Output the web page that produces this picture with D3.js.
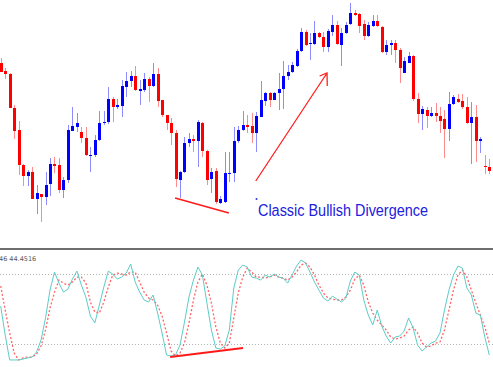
<!DOCTYPE html>
<html>
<head>
<meta charset="utf-8">
<script src="https://cdn.jsdelivr.net/npm/d3@7"></script>
<style>
  html, body { margin: 0; padding: 0; background: #fff; }
  svg { display: block; }
</style>
</head>
<body>
<div id="chart"></div>
<script>
// candles (price units)
const open = [167,159,156,122,100,65,54,58,31,36, 33,46,66,65,40,50,99,103,98,92,
  74,75,90,107,108,131,123,124,143,149, 154,139,140,151,144,156,130,115,107,97,
  50,58,87,91,89,107,79,51,59,27, 28,56,57,89,100,105,104,97,113,129,
  137,130,137,141,154,158,164,179,198,186, 186,197,193,183,198,205,185,197,206,217,
  216,206,194,204,209,203,178,185,187,180, 157,167,174,131,116,120,114,117,114,111,
  101,126,131,129,123,107,113,89,64,63]
const high = [172,162,157,125,109,66,60,63,45,36, 58,72,73,72,53,105,123,117,103,103,
  83,95,119,119,143,133,131,150,158,159, 164,150,157,153,167,162,130,115,112,100,
  59,93,97,95,110,108,80,62,62,34, 78,78,103,104,119,115,117,118,149,138,
  138,138,157,169,165,168,181,202,200,197, 209,198,198,201,215,209,202,208,227,220,
  217,210,208,215,215,204,190,190,190,182, 173,178,175,137,124,123,123,127,123,120,
  138,135,136,136,133,128,125,93,75,71]
const low = [158,151,122,91,55,44,44,31,16,8, 25,34,57,37,32,47,99,98,87,74,
  58,73,89,105,106,108,121,113,133,143, 139,125,138,128,143,123,113,100,85,43,
  32,57,83,78,63,73,45,37,26,26, 27,48,48,87,99,97,87,78,113,124,
  123,130,120,121,150,157,163,178,184,170, 185,192,178,178,194,185,164,196,205,214,
  197,190,193,203,203,177,175,175,167,147, 157,167,129,107,100,102,113,108,97,72,
  89,125,127,121,106,66,68,77,56,56]
const close = [158,156,122,99,65,54,58,31,37,33, 45,66,64,40,50,100,104,107,92,75,
  75,90,107,108,131,123,125,144,149,154, 140,141,151,144,156,129,115,107,97,51,
  58,87,91,89,108,79,50,58,28,31, 57,57,89,100,105,103,97,114,130,137,
  130,137,141,154,158,165,179,198,185,187, 197,193,183,199,205,186,197,205,217,215,
  204,194,205,209,204,178,185,187,180,162, 169,174,131,116,121,114,117,114,109,101,
  126,133,128,123,107,113,89,91,63,59]

// stochastic %K (solid) and %D (dotted)
const stochK = [52.5,27.7,6.3,6.3,6.3,7.1,8.0,8.8,13.1,23.4, 42.3,66.2,81.7,72.2,64.5,67.1,75.7,82.5,70.5,60.2,
  44.0,38.0,53.4,68.8,82.5,80.0,75.7,77.4,80.8,88.5, 73.1,64.5,57.7,56.0,62.0,46.5,29.4,10.5,9.7,10.5,
  19.1,38.8,60.2,74.8,86.0,79.1,55.1,32.0,16.5,15.7, 18.3,32.0,68.0,83.4,87.7,86.0,77.4,76.5,74.8,79.1,
  77.4,80.0,77.4,76.5,72.2,79.1,86.8,92.0,89.4,81.7, 73.1,66.2,59.4,56.8,61.1,58.5,56.0,59.4,74.0,81.7,
  79.1,57.7,44.8,36.3,49.1,35.4,26.8,20.8,26.0,26.8, 31.1,42.3,33.7,19.1,14.0,17.4,20.8,22.5,29.4,49.1,
  66.2,79.1,86.8,85.1,68.0,62.0,46.5,44.8,26.0,10.5]
const stochD = [69.7,49.1,29.4,12.3,6.3,8.0,8.8,8.8,11.4,18.3, 32.0,50.8,64.5,74.8,72.2,70.5,73.1,77.4,77.4,72.2,
  56.0,47.4,46.5,56.0,68.8,79.1,80.8,80.0,79.1,81.7, 81.7,73.1,64.5,59.4,57.7,53.4,44.0,29.4,14.0,9.7,
  12.3,20.8,38.0,57.7,73.1,80.0,70.5,55.1,34.5,20.8, 16.5,20.8,42.3,63.7,77.4,85.1,81.7,77.4,77.4,76.5,
  77.4,79.1,77.4,76.5,74.8,77.4,81.7,87.7,89.4,86.0, 79.1,70.5,63.7,59.4,58.5,57.7,57.7,60.2,66.2,75.7,
  79.1,70.5,56.0,46.5,40.5,36.3,32.0,26.0,24.2,25.1, 26.8,32.0,34.5,29.4,20.8,17.4,18.3,20.8,21.7,32.0,
  49.1,66.2,79.1,83.4,77.4,66.2,55.1,44.8,34.5,20.8]
const stochLevels = [80, 20]
const stochLabel = '46 44.4516'

// annotations: [candle index, value]
const priceDivergence = [[38.9, 32], [50.9, 17]]
const stochDivergence = [[37.8, 8.8], [54.05, 16.5]]
const trendArrow = [[56.9, 49], [72.8, 157]]
const labelText = 'Classic Bullish Divergence'
const labelPos = [57.4, 14]

const width = 493
const height = 367

const svg = d3.select('#chart').append('svg')
  .attr('width', width)
  .attr('height', height)

const x = d3.scaleLinear().domain([0, open.length - 1]).range([0.7, 489.3])
const y = d3.scaleLinear().domain([0, 230]).range([230, 0])
const ys = d3.scaleLinear().domain([0, 100]).range([367.3, 250.7])

const idx = d3.range(open.length)
const upColor = '#0000ff'
const downColor = '#ff0000'
const col = i => (close[i] >= open[i] ? upColor : downColor)

// wicks
svg.append('g').selectAll('line')
  .data(idx)
  .join('line')
  .attr('x1', i => Math.round(x(i)) + 0.5)
  .attr('x2', i => Math.round(x(i)) + 0.5)
  .attr('y1', i => y(high[i]))
  .attr('y2', i => y(low[i]))
  .attr('stroke', col)
  .attr('stroke-opacity', 0.45)
  .attr('stroke-width', 1)

// bodies
svg.append('g').selectAll('rect')
  .data(idx)
  .join('rect')
  .attr('x', i => Math.round(x(i)) - 1)
  .attr('width', 3)
  .attr('y', i => y(Math.max(open[i], close[i])))
  .attr('height', i => Math.max(1, Math.abs(y(open[i]) - y(close[i]))))
  .attr('fill', col)
  .attr('shape-rendering', 'crispEdges')

// price divergence line
svg.append('line')
  .attr('x1', x(priceDivergence[0][0])).attr('y1', y(priceDivergence[0][1]))
  .attr('x2', x(priceDivergence[1][0])).attr('y2', y(priceDivergence[1][1]))
  .attr('stroke', '#ff1a1a')
  .attr('stroke-width', 1.6)

// arrow
const a0 = [x(trendArrow[0][0]), y(trendArrow[0][1])]
const a1 = [x(trendArrow[1][0]), y(trendArrow[1][1])]
const ang = Math.atan2(a0[1] - a1[1], a0[0] - a1[0])
const head = (d, len) => [a1[0] + len * Math.cos(ang + d), a1[1] + len * Math.sin(ang + d)]
const h1 = head(0.6, 8)
const h2 = head(-0.6, 13)
svg.append('path')
  .attr('d', `M${a0}L${a1}M${h1}L${a1}L${h2}`)
  .attr('fill', 'none')
  .attr('stroke', '#ff2020')
  .attr('stroke-width', 1.3)

// label
svg.append('circle')
  .attr('cx', x(labelPos[0]) - 1.5)
  .attr('cy', y(labelPos[1]) - 17)
  .attr('r', 1)
  .attr('fill', '#3333dd')
svg.append('text')
  .attr('x', x(labelPos[0]))
  .attr('y', y(labelPos[1]))
  .attr('font-family', 'Liberation Sans, Arial, sans-serif')
  .attr('font-size', 16)
  .attr('textLength', 170)
  .attr('lengthAdjust', 'spacingAndGlyphs')
  .attr('fill', '#2020dd')
  .text(labelText)

// indicator panel
svg.append('rect')
  .attr('x', 0).attr('y', 248)
  .attr('width', width).attr('height', 2)
  .attr('fill', '#6e6e6e')

svg.append('text')
  .attr('x', -1)
  .attr('y', 260.5)
  .attr('font-family', 'DejaVu Sans, sans-serif')
  .attr('font-size', 6.5)
  .attr('fill', '#555')
  .text(stochLabel)

svg.append('g').selectAll('line')
  .data(stochLevels)
  .join('line')
  .attr('x1', 0).attr('x2', width)
  .attr('y1', d => Math.round(ys(d)) + 0.5)
  .attr('y2', d => Math.round(ys(d)) + 0.5)
  .attr('stroke', '#b4b4b4')
  .attr('stroke-dasharray', '1,2')

const line = arr => d3.line()
  .x((d, i) => x(i))
  .y(d => ys(d))(arr)

svg.append('path')
  .attr('d', line(stochD))
  .attr('fill', 'none')
  .attr('stroke', '#ff6464')
  .attr('stroke-width', 1.3)
  .attr('stroke-dasharray', '2,2')

svg.append('path')
  .attr('d', line(stochK))
  .attr('fill', 'none')
  .attr('stroke', '#5ccdc7')
  .attr('stroke-width', 1)

// stochastic divergence line
svg.append('line')
  .attr('x1', x(stochDivergence[0][0])).attr('y1', ys(stochDivergence[0][1]))
  .attr('x2', x(stochDivergence[1][0])).attr('y2', ys(stochDivergence[1][1]))
  .attr('stroke', '#ff1a1a')
  .attr('stroke-width', 2)
</script>
</body>
</html>
